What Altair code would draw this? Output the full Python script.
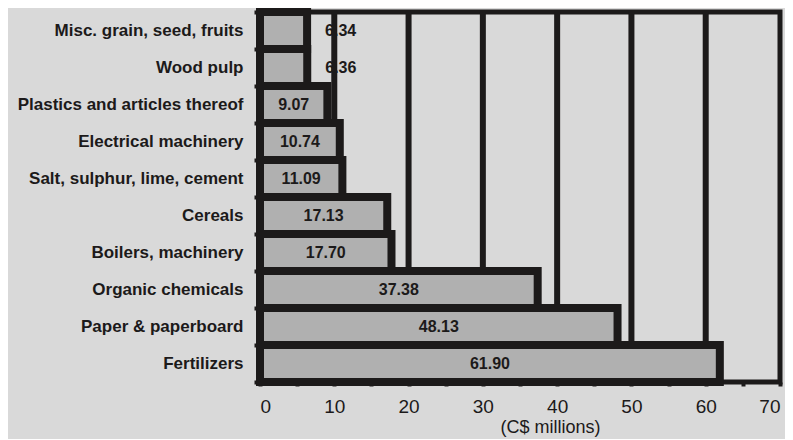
import altair as alt
import pandas as pd

categories = [
    "Misc. grain, seed, fruits",
    "Wood pulp",
    "Plastics and articles thereof",
    "Electrical machinery",
    "Salt, sulphur, lime, cement",
    "Cereals",
    "Boilers, machinery",
    "Organic chemicals",
    "Paper & paperboard",
    "Fertilizers",
]
values = [6.34, 6.36, 9.07, 10.74, 11.09, 17.13, 17.70, 37.38, 48.13, 61.90]
grid_values = [10, 20, 30, 40, 50, 60]
x_ticks = list(range(0, 75, 5))

df = pd.DataFrame({"category": categories, "value": values})
df["label"] = [f"{v:.2f}" for v in values]
df["inside"] = df["value"] >= 8
df["pos"] = [v / 2 if v >= 8 else v for v in values]

INK = "#1c1a1a"
FONT = "Liberation Sans"

xscale = alt.Scale(domain=[0, 70], nice=False, zero=True)
yscale = alt.Scale(paddingInner=0, paddingOuter=0)

x_axis = alt.Axis(
    values=x_ticks,
    labelExpr="datum.value % 10 == 0 ? datum.label : ''",
    title="(C$ millions)",
    titleX=290,
    titleAnchor="start",
    titleAlign="center",
    titlePadding=2,
    titleFont=FONT,
    titleFontSize=18,
    titleFontWeight="normal",
    titleColor=INK,
    grid=False,
    domain=False,
    tickSize=4,
    tickWidth=4,
    tickColor=INK,
    labelFont=FONT,
    labelFontSize=19,
    labelColor=INK,
    labelPadding=11,
)

y_axis = alt.Axis(
    title=None,
    domain=False,
    tickBand="extent",
    tickSize=6,
    tickWidth=4,
    tickColor=INK,
    labelFont=FONT,
    labelFontSize=17,
    labelFontWeight="bold",
    labelColor=INK,
    labelPadding=11,
    labelLimit=400,
)

grid = alt.Chart(pd.DataFrame({"g": grid_values})).mark_rule(
    color=INK, strokeWidth=6
).encode(x=alt.X("g:Q", scale=xscale, axis=x_axis, title="(C$ millions)"))

bars = alt.Chart(df).mark_bar(
    fill="#b0b0b0", stroke=INK, strokeWidth=8, strokeJoin="miter",
    height={"band": 1},
).encode(
    x=alt.X("value:Q", scale=xscale, axis=x_axis, title="(C$ millions)"),
    y=alt.Y("category:N", sort=categories, scale=yscale, axis=y_axis),
)

text_in = alt.Chart(df).transform_filter("datum.inside").mark_text(
    font=FONT, fontSize=16, fontWeight="bold", color=INK, align="center", baseline="middle"
).encode(
    x=alt.X("pos:Q", scale=xscale, axis=x_axis, title="(C$ millions)"),
    y=alt.Y("category:N", sort=categories, scale=yscale, axis=y_axis),
    text="label:N",
)

text_out = alt.Chart(df).transform_filter("!datum.inside").mark_text(
    font=FONT, fontSize=16, fontWeight="bold", color=INK, align="left", baseline="middle", dx=18
).encode(
    x=alt.X("pos:Q", scale=xscale, axis=x_axis, title="(C$ millions)"),
    y=alt.Y("category:N", sort=categories, scale=yscale, axis=y_axis),
    text="label:N",
)

chart = alt.layer(grid, bars, text_in, text_out).properties(
    width=520,
    height=370,
    autosize=alt.AutoSizeParams(type="none"),
    padding={"left": 252, "top": 4, "right": 5, "bottom": 57},
    background="#d9d9d9",
).configure_view(
    stroke=INK, strokeWidth=5
).configure_scale(
    bandPaddingInner=0, bandPaddingOuter=0
)

chart.save("out.html", embed_options={"renderer": "svg", "actions": False})
